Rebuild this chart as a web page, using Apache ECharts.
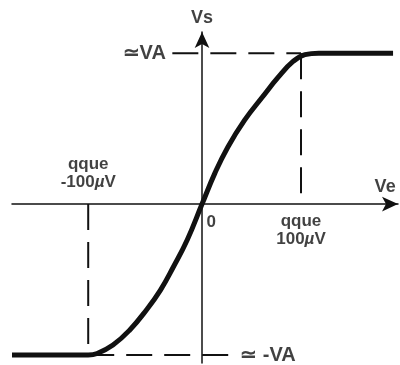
<!DOCTYPE html>
<html>
<head>
<meta charset="utf-8">
<script src="https://cdn.jsdelivr.net/npm/echarts@6/dist/echarts.min.js"></script>
<style>
html, body { margin: 0; padding: 0; background: #fff; }
#chart { width: 400px; height: 365px; }
</style>
</head>
<body>
<div id="chart"></div>
<script>
// courbe Vs = f(Ve), Ve en µV, Vs en unités de VA
const veCurve = [-192, -140, -115, -106, -90, -73, -56, -42, -29, -15, 0, 13, 26, 43, 61, 77, 92, 104, 118, 140, 193];
const vsCurve = [-1, -1, -1, -0.99, -0.934, -0.834, -0.70, -0.57, -0.417, -0.238, 0, 0.205, 0.377, 0.556, 0.709, 0.841, 0.945, 0.99, 1, 1, 1];
// seuils "qque ±100µV" (position sur le dessin)
const seuilNeg = -115;
const seuilPos = 100;
const VA = 1;
const xRange = [-192, 198];
const yRange = [-1.053, 1.14];

let chart = echarts.init(document.getElementById('chart'));
const font = '"Liberation Sans", Arial, sans-serif';
const ink = '#111';

let curve = veCurve.map((v, i) => [v, vsCurve[i]]);

function dashed(points) {
	return {
		type: 'line',
		data: points,
		symbol: 'none',
		silent: true,
		lineStyle: { color: ink, width: 2, type: [26, 12] }
	};
}

function note(x, y, text, label) {
	return {
		type: 'scatter',
		data: [[x, y]],
		symbolSize: 1,
		itemStyle: { color: 'rgba(0,0,0,0)' },
		silent: true,
		label: Object.assign({
			show: true,
			formatter: text,
			color: ink,
			fontFamily: font,
			fontWeight: 'bold',
			fontSize: 17,
			lineHeight: 18,
			rich: { m: { fontStyle: 'italic', fontWeight: 'bold', fontSize: 17, fontFamily: font, color: ink } }
		}, label)
	};
}

let option = {
	animation: false,
	grid: { left: 12, right: 2, top: 32, bottom: 2 },
	xAxis: {
		type: 'value',
		min: xRange[0],
		max: xRange[1],
		splitLine: { show: false },
		axisTick: { show: false },
		axisLabel: { show: false },
		axisLine: { symbol: ['none', 'arrow'], symbolSize: [11, 16], lineStyle: { color: ink, width: 1.5 } }
	},
	yAxis: {
		type: 'value',
		min: yRange[0],
		max: yRange[1],
		splitLine: { show: false },
		axisTick: { show: false },
		axisLabel: { show: false },
		axisLine: { symbol: ['none', 'arrow'], symbolSize: [11, 16], lineStyle: { color: ink, width: 1.5 } }
	},
	series: [
		dashed([[-30, VA], [seuilPos, VA]]),
		dashed([[seuilPos, VA], [seuilPos, 0]]),
		dashed([[seuilNeg, 0], [seuilNeg, -VA]]),
		dashed([[seuilNeg, -VA], [28, -VA]]),
		{
			type: 'line',
			data: curve,
			smooth: 0.45,
			symbol: 'none',
			silent: true,
			lineStyle: { color: ink, width: 5 }
		},
		note(-30, VA, '≃VA', { position: 'left', distance: 6, fontSize: 20 }),
		note(28, -VA, '≃ -VA', { position: 'right', distance: 10, fontSize: 20 }),
		note(0, yRange[1], 'Vs', { position: 'top', distance: 4, fontSize: 18 }),
		note(185, 0, 'Ve', { position: 'top', distance: 8, fontSize: 18 }),
		note(0, 0, '0', { position: [5, 10] }),
		note(seuilPos, 0, 'qque\n100{m|µ}V', { position: 'bottom', distance: 8 }),
		note(seuilNeg, 0, 'qque\n-100{m|µ}V', { position: 'top', distance: 12 })
	]
};
chart.setOption(option);
window.addEventListener('resize', () => chart.resize(), false);
</script>
</body>
</html>
